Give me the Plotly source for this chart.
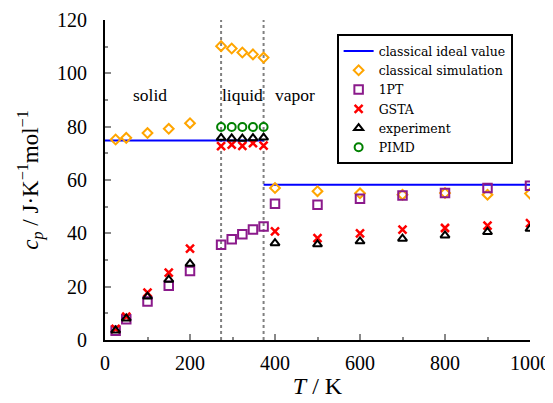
import plotly.graph_objects as go

# ---- data ----
T_ideal = [0, 373.15, None, 373.15, 1000]
cp_ideal = [74.83, 74.83, None, 58.2, 58.2]

T_all = [25, 50, 100, 150, 200, 273.15, 298.15, 323.15, 348.15, 373.15,
         400, 500, 600, 700, 800, 900, 1000]
cp_classical = [75.2, 75.8, 77.6, 79.2, 81.3, 110.2, 109.3, 107.8, 107.1, 105.9,
                57.0, 55.8, 55.0, 54.5, 55.1, 54.5, 54.9]
cp_1pt = [3.5, 7.8, 14.4, 20.3, 25.9, 35.7, 37.8, 39.7, 41.4, 42.6,
          51.1, 50.7, 53.0, 54.2, 55.1, 57.0, 57.8]
cp_gsta = [4.2, 8.8, 17.8, 25.3, 34.3, 72.7, 73.3, 72.8, 73.8, 72.9,
           40.7, 38.2, 40.0, 41.4, 42.0, 42.9, 43.8]
cp_exp = [3.6, 8.1, 16.3, 22.6, 28.6, 75.8, 75.6, 75.5, 75.7, 75.9,
          36.3, 35.9, 37.0, 38.0, 39.2, 40.5, 41.7]
T_pimd = [273.15, 298.15, 323.15, 348.15, 373.15]
cp_pimd = [79.9, 79.9, 79.9, 79.9, 79.9]

T_transitions = [273.15, 373.15]
phase_labels = ["solid", "liquid", "vapor"]
phase_T = [106, 323, 446]
phase_cp = [92, 92, 92]

FONT = "Liberation Serif"

fig = go.Figure()
fig.add_trace(go.Scatter(x=T_ideal, y=cp_ideal, mode="lines", name="classical ideal value",
                         line=dict(color="#0000ff", width=2)))
fig.add_trace(go.Scatter(x=T_all, y=cp_classical, mode="markers", name="classical simulation",
                         marker=dict(symbol="diamond-open", size=7.5, color="#ffa500",
                                     line=dict(width=2, color="#ffa500"))))
fig.add_trace(go.Scatter(x=T_all, y=cp_1pt, mode="markers", name="1PT",
                         marker=dict(symbol="square-open", size=8.5, color="#8b1a8b",
                                     line=dict(width=2, color="#8b1a8b"))))
fig.add_trace(go.Scatter(x=T_all, y=cp_gsta, mode="markers", name="GSTA",
                         marker=dict(symbol="x-thin-open", size=8, color="#ff0000",
                                     line=dict(width=2.5, color="#ff0000"))))
fig.add_trace(go.Scatter(x=T_all, y=cp_exp, mode="markers", name="experiment",
                         marker=dict(symbol="triangle-up-open", size=8, color="#000000",
                                     line=dict(width=2, color="#000000"))))
fig.add_trace(go.Scatter(x=T_pimd, y=cp_pimd, mode="markers", name="PIMD",
                         marker=dict(symbol="circle-open", size=8, color="#008000",
                                     line=dict(width=2, color="#008000"))))

for t in T_transitions:
    fig.add_shape(type="line", xref="x", yref="paper", x0=t, x1=t, y0=0, y1=1,
                  line=dict(color="#808080", width=2, dash="dot"), layer="below")

for lab, tx, ty in zip(phase_labels, phase_T, phase_cp):
    fig.add_annotation(x=tx, y=ty, text=lab, showarrow=False, xanchor="center",
                       font=dict(family=FONT, size=17.5, color="black"))

# page body has an 8px margin, so margins are shifted to keep the plot area in place
fig.update_layout(
    width=545, height=395,
    margin=dict(l=97, r=23, t=12, b=63),
    paper_bgcolor="white", plot_bgcolor="white",
    font=dict(family=FONT, size=17, color="black"),
    showlegend=True,
    legend=dict(x=0.545, y=0.955, xanchor="left", yanchor="top",
                bordercolor="black", borderwidth=2, bgcolor="white",
                font=dict(family="DejaVu Serif", size=12.5), itemwidth=30,
                tracegroupgap=0),
    xaxis=dict(range=[0, 1000], dtick=200, tick0=0, showgrid=False, zeroline=False,
               showline=True, linecolor="black", linewidth=2, automargin=False,
               ticks="inside", ticklen=6, tickwidth=2, tickcolor="#888888",
               minor=dict(dtick=100, ticks="inside", ticklen=3, tickwidth=2, tickcolor="#888888"),
               title=dict(text="<i>T</i> / K", font=dict(family=FONT, size=24), standoff=4),
               tickfont=dict(family=FONT, size=20), ticklabelstandoff=4),
    yaxis=dict(range=[0, 120], dtick=20, tick0=0, showgrid=False, zeroline=False,
               showline=True, linecolor="black", linewidth=2, automargin=False,
               ticks="inside", ticklen=6, tickwidth=2, tickcolor="#888888",
               minor=dict(dtick=10, ticks="inside", ticklen=3, tickwidth=2, tickcolor="#888888"),
               title=dict(text="<i>c</i><sub><i>p</i></sub> / J·K<sup>−1</sup>mol<sup>−1</sup>",
                          font=dict(family=FONT, size=23), standoff=12),
               tickfont=dict(family=FONT, size=20), ticklabelstandoff=12),
)

fig.write_html("out.html")
